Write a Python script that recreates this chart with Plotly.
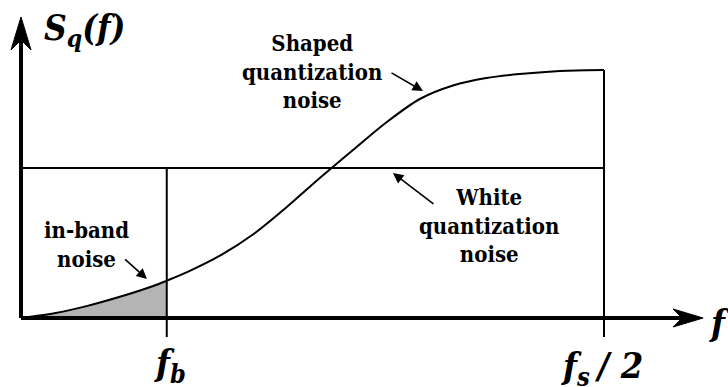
import plotly.graph_objects as go

# Frequency axis normalised so that fs/2 = 1; white-noise level = 1
f_band = 0.25          # f_b
f_half = 1.0           # fs/2
white_level = 1.0

# Shaped quantization noise spectrum S_q(f)
shaped_f = [0.0, 0.057, 0.114, 0.171, 0.228, 0.25, 0.285, 0.342, 0.399, 0.456, 0.513,
            0.57, 0.627, 0.684, 0.741, 0.798, 0.855, 0.912, 0.969, 1.0]
shaped_s = [0.0, 0.032, 0.081, 0.143, 0.215, 0.249, 0.306, 0.417, 0.56, 0.74, 0.935,
            1.122, 1.305, 1.46, 1.55, 1.60, 1.627, 1.644, 1.652, 1.653]

FONT = "DejaVu Serif Condensed"
W, H = 728, 387
X0_PX, X1_PX = 21, 604      # pixel columns of f=0 and f=fs/2
Y0_PX, Y1_PX = 318, 168     # pixel rows of S=0 and S=white level
sx = (X1_PX - X0_PX) / f_half
sy = (Y0_PX - Y1_PX) / white_level
x_range = [-X0_PX / sx, (W - X0_PX) / sx]
y_range = [-(H - Y0_PX) / sy, Y0_PX / sy]

x_axis_end = 1.17
y_axis_end = 2.007
tick_low = -0.127

fig = go.Figure()

# in-band noise (shaded area under the curve up to f_b)
n_band = sum(1 for f in shaped_f if f <= f_band)
fig.add_trace(go.Scatter(x=shaped_f[:n_band], y=shaped_s[:n_band], mode="lines", fill="tozeroy",
                         fillcolor="#b4b4b4", line=dict(color="rgba(0,0,0,0)", width=0, shape="spline"),
                         hoverinfo="skip", showlegend=False))

# shaped noise curve
fig.add_trace(go.Scatter(x=shaped_f, y=shaped_s, mode="lines",
                         line=dict(color="black", width=2, shape="spline", smoothing=0.8),
                         hoverinfo="skip", showlegend=False))

# white noise level
fig.add_trace(go.Scatter(x=[0, f_half], y=[white_level, white_level], mode="lines",
                         line=dict(color="black", width=2), hoverinfo="skip", showlegend=False))

shapes = []
# f_b and fs/2 markers
shapes.append(dict(type="line", x0=f_band, x1=f_band, y0=tick_low, y1=white_level,
                   line=dict(color="black", width=2)))
shapes.append(dict(type="line", x0=f_half, x1=f_half, y0=tick_low, y1=shaped_s[-1],
                   line=dict(color="black", width=2)))
# axes
shapes.append(dict(type="line", x0=0, x1=x_axis_end - 20 / sx, y0=0, y1=0,
                   line=dict(color="black", width=4)))
shapes.append(dict(type="line", x0=0, x1=0, y0=0, y1=y_axis_end - 20 / sy,
                   line=dict(color="black", width=4)))


def arrow_head(tx, ty, direction, length, half, notch):
    """Barbed arrow head path; sizes in pixels, tip in data units."""
    if direction == "right":
        pts = [(tx, ty), (tx - length / sx, ty + half / sy),
               (tx - (length - notch) / sx, ty), (tx - length / sx, ty - half / sy)]
    else:
        pts = [(tx, ty), (tx - half / sx, ty - length / sy),
               (tx, ty - (length - notch) / sy), (tx + half / sx, ty - length / sy)]
    return "M " + " L ".join(f"{x},{y}" for x, y in pts) + " Z"


shapes.append(dict(type="path", path=arrow_head(x_axis_end, 0, "right", 30, 9, 9),
                   fillcolor="black", line=dict(color="black", width=1)))
shapes.append(dict(type="path", path=arrow_head(0, y_axis_end, "up", 33, 10, 10),
                   fillcolor="black", line=dict(color="black", width=1)))

ann = []
txt = dict(family=FONT, size=22, color="black")
big = dict(family=FONT, size=36, color="black")

ann.append(dict(x=0.499, y=1.643, text="<b>Shaped<br>quantization<br>noise</b>",
                showarrow=False, font=txt, xanchor="center", yanchor="middle"))
ann.append(dict(x=0.803, y=0.62, text="<b>White<br>quantization<br>noise</b>",
                showarrow=False, font=txt, xanchor="center", yanchor="middle"))
ann.append(dict(x=0.1115, y=0.487, text="<b>in-band<br>noise</b>",
                showarrow=False, font=txt, xanchor="center", yanchor="middle"))

# pointer arrows
for head, tail in [((0.6895, 1.513), (0.633, 1.64)),
                   ((0.638, 0.967), (0.710, 0.753)),
                   ((0.216, 0.26), (0.176, 0.40))]:
    ann.append(dict(x=head[0], y=head[1], ax=tail[0], ay=tail[1], axref="x", ayref="y",
                    text="", showarrow=True, arrowhead=2, arrowsize=1.3, arrowwidth=1.6,
                    arrowcolor="black"))

# axis labels
ann.append(dict(x=0.036, y=1.92, text="<b><i>S<sub>q</sub>(f)</i></b>", showarrow=False,
                font=dict(family=FONT, size=35, color="black"), xanchor="left", yanchor="middle"))
ann.append(dict(x=1.176, y=-0.027, text="<b><i>f</i></b>", showarrow=False,
                font=big, xanchor="left", yanchor="middle"))
ann.append(dict(x=0.256, y=-0.31, text="<b><i>f<sub>b</sub></i></b>", showarrow=False,
                font=big, xanchor="center", yanchor="middle"))
ann.append(dict(x=0.997, y=-0.33, text="<b><i>f<sub>s </sub>/ 2</i></b>", showarrow=False,
                font=big, xanchor="center", yanchor="middle"))

fig.update_layout(
    width=W, height=H, margin=dict(l=0, r=0, t=0, b=0),
    paper_bgcolor="white", plot_bgcolor="white",
    xaxis=dict(range=x_range, visible=False, fixedrange=True),
    yaxis=dict(range=y_range, visible=False, fixedrange=True),
    shapes=shapes, annotations=ann, showlegend=False,
)

fig.write_html("out.html")
